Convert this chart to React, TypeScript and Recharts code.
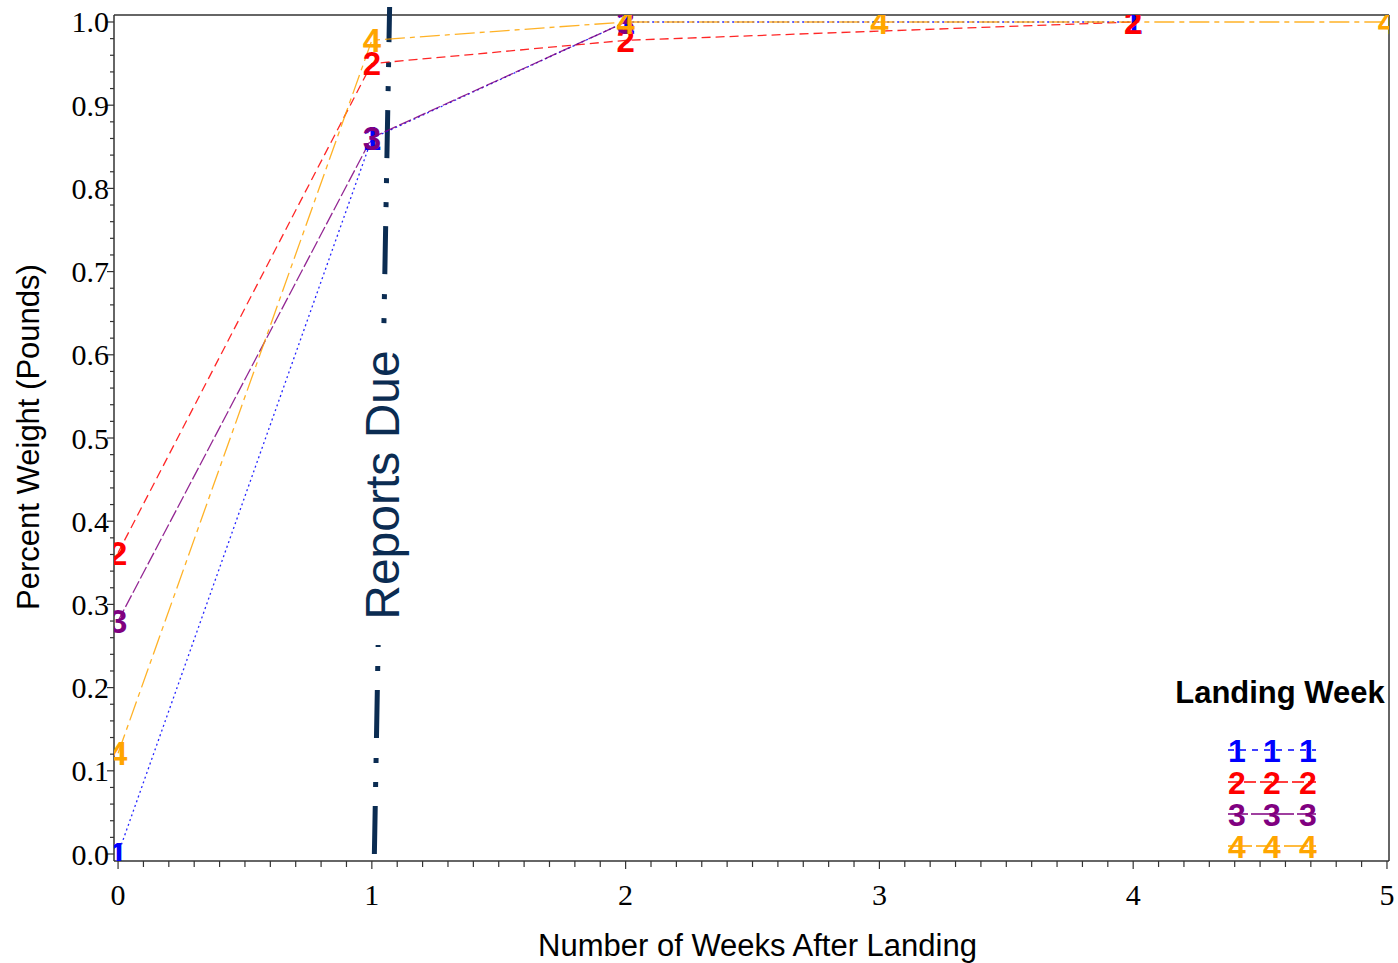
import { Line, LineChart, ReferenceLine, XAxis, YAxis } from "recharts";

const weeks = [0, 1, 2, 3, 4, 5];
const week1 = [0.0, 0.86, 1.0, null, 1.0, null];
const week2 = [0.362, 0.95, 0.978, null, 1.0, null];
const week3 = [0.28, 0.861, 1.0, null, null, null];
const week4 = [0.121, 0.978, 1.0, 1.0, null, 1.0];

const xMajorTicks = [0, 1, 2, 3, 4, 5];
const yMajorTicks = [0.0, 0.1, 0.2, 0.3, 0.4, 0.5, 0.6, 0.7, 0.8, 0.9, 1.0];

const X_DOMAIN: [number, number] = [-0.016, 5.008];
const Y_DOMAIN: [number, number] = [-0.0084, 1.0084];

const SANS = "'Liberation Sans', Arial, sans-serif";
const SERIF = "'Liberation Serif', 'Times New Roman', serif";
const AXIS = "#333";
const NAVY = "#0b2c52";

// minor ticks every 0.1 on x and 0.02 on y
const xTicks = Array.from({ length: 51 }, (_, i) => Math.round(i * 10) / 100);
const yTicks = Array.from({ length: 51 }, (_, i) => Math.round(i * 2) / 100);

const series = [
  { key: "w1", label: "1", color: "#0000ff", dash: "2 3", legendDash: "6 6", values: week1 },
  { key: "w2", label: "2", color: "#ff0000", dash: "9 5", legendDash: "12 4", values: week2 },
  { key: "w3", label: "3", color: "#800080", dash: "13 3", legendDash: "20 3", values: week3 },
  { key: "w4", label: "4", color: "#ffa500", dash: "20 5 5 5", legendDash: "24 4", values: week4 },
];

const data = weeks.map((w, i) => {
  const row: Record<string, number | null> = { week: w };
  series.forEach((s) => (row[s.key] = s.values[i]));
  return row;
});

const isMajorX = (v: number) => xMajorTicks.some((t) => Math.abs(t - v) < 1e-6);
const isMajorY = (v: number) => yMajorTicks.some((t) => Math.abs(t - v) < 1e-6);

const XTick = ({ x, y, payload }: any) => {
  const major = isMajorX(payload.value);
  return (
    <g>
      <line x1={x} x2={x} y1={y} y2={y + (major ? 8 : 6)} stroke={AXIS} strokeWidth={1.2} />
      {major && (
        <text x={x} y={y + 44} textAnchor="middle" fontFamily={SERIF} fontSize={30} fill="#000">
          {payload.value}
        </text>
      )}
    </g>
  );
};

const YTick = ({ x, y, payload }: any) => {
  const major = isMajorY(payload.value);
  return (
    <g>
      <line x1={x} x2={x - (major ? 7 : 4)} y1={y} y2={y} stroke={AXIS} strokeWidth={1.2} />
      {major && (
        <text x={x - 5} y={y} dy="0.35em" textAnchor="end" fontFamily={SERIF} fontSize={30} fill="#000">
          {payload.value.toFixed(1)}
        </text>
      )}
    </g>
  );
};

const YTitle = ({ viewBox }: any) => {
  const cx = viewBox.x + 28;
  const cy = viewBox.y + viewBox.height / 2 - 1;
  return (
    <text
      x={cx}
      y={cy}
      dy="0.36em"
      transform={`rotate(-90 ${cx} ${cy})`}
      textAnchor="middle"
      fontFamily={SANS}
      fontSize={31}
      fill="#000"
    >
      Percent Weight (Pounds)
    </text>
  );
};

const XTitle = ({ viewBox }: any) => (
  <text
    x={viewBox.x + viewBox.width / 2 + 6}
    y={viewBox.y + 95}
    textAnchor="middle"
    fontFamily={SANS}
    fontSize={31}
    fill="#000"
  >
    Number of Weeks After Landing
  </text>
);

const digitDot = (label: string, color: string) => (props: any) => {
  const { cx, cy, index, value } = props;
  if (value == null || cy == null || Number.isNaN(cy)) return <g key={index} />;
  return (
    <text
      key={index}
      x={cx}
      y={cy}
      dy="0.36em"
      textAnchor="middle"
      fontFamily={SANS}
      fontWeight="bold"
      fontSize={33}
      fill={color}
    >
      {label}
    </text>
  );
};

function LegendBox() {
  return (
    <svg width={238} height={195} style={{ position: "absolute", left: 1160, top: 670 }}>
      <text x={120} y={33} textAnchor="middle" fontFamily={SANS} fontWeight="bold" fontSize={31} fill="#000">
        Landing Week
      </text>
      {series.map((s, i) => {
        const cy = 80 + i * 32;
        return (
          <g key={s.key}>
            <line x1={68} x2={156} y1={cy} y2={cy} stroke={s.color} strokeWidth={1.6} strokeDasharray={s.legendDash} />
            {[77, 112, 148].map((cx) => (
              <text
                key={cx}
                x={cx}
                y={cy}
                dy="0.36em"
                textAnchor="middle"
                fontFamily={SANS}
                fontWeight="bold"
                fontSize={32}
                fill={s.color}
              >
                {s.label}
              </text>
            ))}
          </g>
        );
      })}
    </svg>
  );
}

export default function App() {
  return (
    <div style={{ position: "absolute", left: 0, top: 0, width: 1398, height: 963, background: "#fff" }}>
      <LineChart width={1398} height={963} data={data} margin={{ top: 15, right: 9, left: 0, bottom: 0 }}>
        <XAxis
          dataKey="week"
          type="number"
          domain={X_DOMAIN}
          ticks={xTicks}
          interval={0}
          height={102}
          tickSize={0}
          tickMargin={0}
          tickLine={false}
          tick={<XTick />}
          axisLine={{ stroke: AXIS, strokeWidth: 1.5 }}
          allowDataOverflow
          label={<XTitle />}
        />
        <YAxis
          type="number"
          domain={Y_DOMAIN}
          ticks={yTicks}
          interval={0}
          width={114}
          tickSize={0}
          tickMargin={0}
          tickLine={false}
          tick={<YTick />}
          axisLine={{ stroke: AXIS, strokeWidth: 1.5 }}
          allowDataOverflow
          label={<YTitle />}
        />
        {/* frame top and right */}
        <ReferenceLine y={Y_DOMAIN[1]} stroke={AXIS} strokeWidth={1.5} ifOverflow="visible" />
        <ReferenceLine x={X_DOMAIN[1]} stroke={AXIS} strokeWidth={1.5} ifOverflow="visible" />
        {/* reporting deadline */}
        <ReferenceLine
          segment={[
            { x: 1.01, y: 0 },
            { x: 1.07, y: 1.018 },
          ]}
          stroke={NAVY}
          strokeWidth={5}
          strokeDasharray="48 19 5 19 5 20"
          ifOverflow="visible"
        />
        {series.map((s) => (
          <Line
            key={s.key}
            dataKey={s.key}
            type="linear"
            stroke={s.color}
            strokeWidth={1.3}
            strokeOpacity={0.85}
            strokeDasharray={s.dash}
            connectNulls
            dot={digitDot(s.label, s.color)}
            activeDot={false}
            isAnimationActive={false}
          />
        ))}
      </LineChart>
      <div
        style={{
          position: "absolute",
          left: 383 - 160,
          top: 485 - 24,
          width: 320,
          height: 48,
          lineHeight: "48px",
          transform: "rotate(-90deg)",
          background: "#fff",
          color: NAVY,
          fontFamily: SANS,
          fontSize: 48,
          textAlign: "center",
          whiteSpace: "nowrap",
        }}
      >
        Reports Due
      </div>
      <LegendBox />
    </div>
  );
}
